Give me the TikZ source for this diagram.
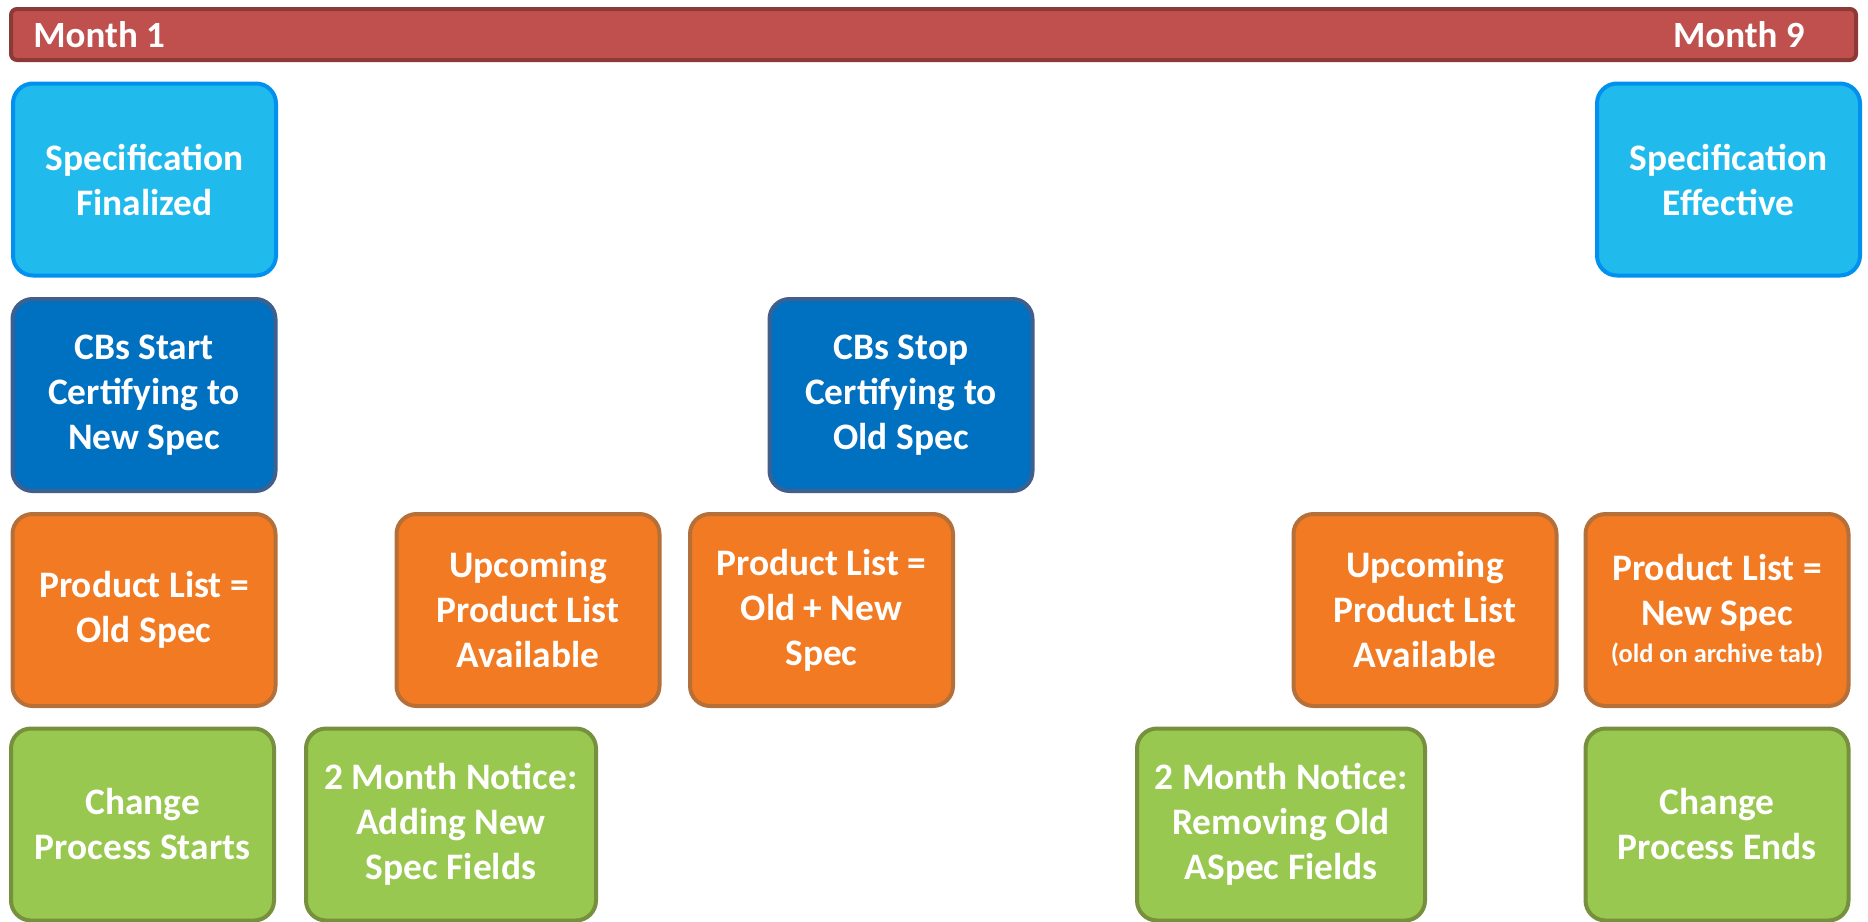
\documentclass[tikz,border=0pt]{standalone}
\usepackage{fontspec}
\setmainfont{Carlito}
\usepackage{xcolor}
\usepackage{tikz}

\definecolor{barfill}{HTML}{C0504D}
\definecolor{barline}{HTML}{8C3A38}
\definecolor{specfill}{HTML}{21BAEC}
\definecolor{specline}{HTML}{0091F0}
\definecolor{certfill}{HTML}{0070C0}
\definecolor{certline}{HTML}{3F5F8F}
\definecolor{listfill}{HTML}{F27A22}
\definecolor{listline}{HTML}{B5703A}
\definecolor{noticefill}{HTML}{98C84F}
\definecolor{noticeline}{HTML}{76903E}

\begin{document}
\begin{tikzpicture}[
  x=0.5pt,y=-0.5pt,
  box/.style={rectangle,rounded corners=10pt,line width=2pt,minimum width=131.5pt,minimum height=96pt,inner sep=0pt,align=center,text=white,font=\bfseries\fontsize{18.7}{22.5}\selectfont},
  spec/.style={box,fill=specfill,draw=specline},
  cert/.style={box,fill=certfill,draw=certline},
  list/.style={box,fill=listfill,draw=listline},
  notice/.style={box,fill=noticefill,draw=noticeline},
  bar/.style={rectangle,rounded corners=3pt,line width=2pt,fill=barfill,draw=barline,minimum width=922.5pt,minimum height=25.5pt,inner sep=0pt},
  month/.style={inner sep=0pt,text=white,font=\bfseries\fontsize{18.5}{22}\selectfont}
]
\useasboundingbox (0,0) rectangle (1868,921);

\node[bar] (timeline) at (933.5,34.5) {};
\node[month,anchor=base west] (first) at (33,47.5) {Month 1};
\node[month,anchor=base east] (last) at (1805,47.5) {Month 9};

\node[spec] (finalized) at (144.5,179.5) {Specification\\Finalized};
\node[spec] (effective) at (1728.5,179.5) {Specification\\Effective};

\node[cert] (startcert) at (144,395) {CBs Start\\Certifying to\\New Spec};
\node[cert] (stopcert) at (901,395) {CBs Stop\\Certifying to\\Old Spec};

\node[list] (oldlist) at (144,610) {Product List =\\Old Spec};
\node[list] (upcoming1) at (528,610) {Upcoming\\Product List\\Available};
\node[list] (bothlist) at (821.5,610) {Product List =\\Old + New\\Spec};
\node[list] (upcoming2) at (1425,610) {Upcoming\\Product List\\Available};
\node[list] (newlist) at (1717,610) {Product List =\\New Spec\\[-4pt]{\fontsize{13.2}{15}\selectfont (old on archive tab)}};

\node[notice] (procstart) at (142.5,824.5) {Change\\Process Starts};
\node[notice,minimum width=145pt] (addnotice) at (451,824.5) {2 Month Notice:\\Adding New\\Spec Fields};
\node[notice,minimum width=144pt] (removenotice) at (1281,824.5) {2 Month Notice:\\Removing Old\\ASpec Fields};
\node[notice] (procend) at (1717,824.5) {Change\\Process Ends};

\end{tikzpicture}
\end{document}
